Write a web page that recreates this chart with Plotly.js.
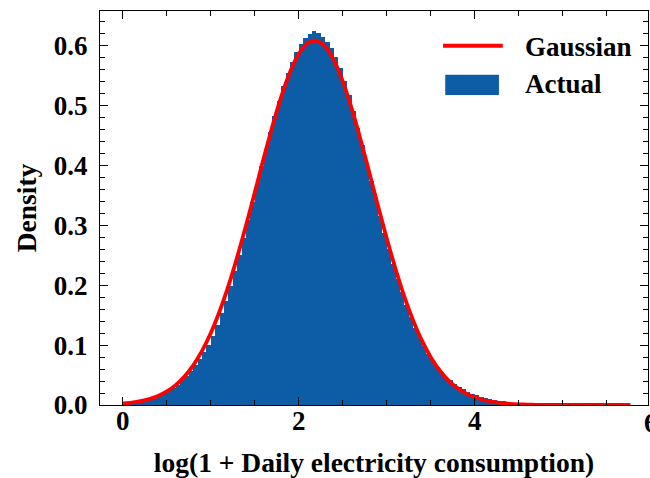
<!DOCTYPE html>
<html>
<head>
<meta charset="utf-8">
<script src="https://cdn.plot.ly/plotly-3.0.1.min.js"></script>
<style>html,body{margin:0;padding:0;background:#fff;}#chart{width:650px;height:478px;}</style>
</head>
<body>
<div id="chart"></div>
<script>
// Histogram of log(1 + daily consumption): bin start, bin width, densities
const binStart = 0.0;
const binWidth = 0.05;
const actualDensity = [
  0.003, 0.004, 0.005, 0.006, 0.007, 0.009, 0.011, 0.013, 0.016, 0.020,
  0.024, 0.029, 0.034, 0.041, 0.048, 0.057, 0.066, 0.076, 0.088, 0.101,
  0.116, 0.133, 0.153, 0.174, 0.198, 0.223, 0.250, 0.279, 0.309, 0.339,
  0.369, 0.399, 0.428, 0.456, 0.483, 0.508, 0.532, 0.554, 0.573, 0.590,
  0.603, 0.613, 0.620, 0.625, 0.621, 0.615, 0.607, 0.596, 0.581, 0.563,
  0.541, 0.517, 0.491, 0.463, 0.434, 0.404, 0.374, 0.344, 0.315, 0.287,
  0.260, 0.235, 0.211, 0.188, 0.167, 0.147, 0.129, 0.113, 0.098, 0.085,
  0.074, 0.064, 0.055, 0.047, 0.041, 0.035, 0.030, 0.026, 0.022, 0.019,
  0.016, 0.014, 0.012, 0.010, 0.008, 0.007, 0.006, 0.005, 0.004, 0.003,
  0.0025, 0.002, 0.0015, 0.0012, 0.001, 0.0008, 0.0006, 0.0005, 0.0004, 0.0003,
  0.0003, 0.0002, 0.0002, 0.0002, 0.0001, 0.0001, 0.0001, 0.0001, 0.0001, 0.0001,
  0.0001, 0.0001, 0.0001, 0.0001
];
// Fitted Gaussian curve
const gaussX = [
  0.0, 0.1, 0.2, 0.3, 0.4, 0.5, 0.6, 0.7, 0.8, 0.9,
  1.0, 1.1, 1.2, 1.3, 1.4, 1.5, 1.6, 1.7, 1.8, 1.9,
  2.0, 2.1, 2.2, 2.3, 2.4, 2.5, 2.6, 2.7, 2.8, 2.9,
  3.0, 3.1, 3.2, 3.3, 3.4, 3.5, 3.6, 3.7, 3.8, 3.9,
  4.0, 4.1, 4.2, 4.3, 4.4, 4.5, 4.6, 4.7, 4.8, 5.0,
  5.2, 5.4, 5.6, 5.77
];
const gaussY = [
  0.0024, 0.0039, 0.0063, 0.0099, 0.0152, 0.0227, 0.0332, 0.0474, 0.0662, 0.0903,
  0.1202, 0.1565, 0.1989, 0.2470, 0.2997, 0.3552, 0.4115, 0.4656, 0.5147, 0.5558,
  0.5864, 0.6045, 0.6087, 0.5989, 0.5756, 0.5405, 0.4958, 0.4444, 0.3891, 0.3328,
  0.2781, 0.2271, 0.1811, 0.1412, 0.1074, 0.0799, 0.0580, 0.0412, 0.0286, 0.0194,
  0.0128, 0.0083, 0.0052, 0.0032, 0.0019, 0.0011, 0.0006, 0.0003, 0.0002, 0.0001,
  0.0, 0.0, 0.0, 0.0
];
const xTickVals = [0, 2, 4];
const xTickText = ['0', '2', '4'];
const xEdgeTickText = '6';   // tick at x = 6, cut by the figure edge
const yTickVals = [0, 0.1, 0.2, 0.3, 0.4, 0.5, 0.6];
const yTickText = ['0.0', '0.1', '0.2', '0.3', '0.4', '0.5', '0.6'];
const seriesNames = ['Gaussian', 'Actual'];
const xTitle = 'log(1 + Daily electricity consumption)';
const yTitle = 'Density';

const binCenters = actualDensity.map((_, i) => binStart + binWidth * (i + 0.5));

const BLUE = '#0C5DA5';
const RED = '#FF0000';
const FONT = 'Liberation Serif, Times New Roman, serif';

const traces = [
  {
    type: 'bar', name: seriesNames[1], x: binCenters, y: actualDensity,
    width: binWidth * 1.02,
    marker: {color: BLUE, line: {width: 0}},
    hoverinfo: 'x+y', showlegend: false
  },
  {
    type: 'scatter', mode: 'lines', name: seriesNames[0], x: gaussX, y: gaussY,
    line: {color: RED, width: 3.8, shape: 'spline', smoothing: 0.6},
    showlegend: false
  }
];

const axisCommon = {
  showline: true, linecolor: '#000', linewidth: 1.2, mirror: 'allticks',
  ticks: 'inside', ticklen: 8, tickwidth: 1.2, tickcolor: '#000',
  showgrid: false, zeroline: false,
  tickfont: {family: FONT, size: 27, color: '#000', weight: 'bold'}
};

const layout = {
  width: 650, height: 478,
  margin: {l: 100, r: 2, t: 11, b: 73},
  paper_bgcolor: '#fff', plot_bgcolor: '#fff',
  bargap: 0, barmode: 'overlay',
  showlegend: false,
  font: {family: FONT, color: '#000'},
  xaxis: Object.assign({}, axisCommon, {
    range: [-0.26, 5.97],
    tickvals: xTickVals, ticktext: xTickText,
    minor: {dtick: 0.5, tick0: 0, ticks: 'inside', ticklen: 5, tickwidth: 1, tickcolor: '#000'},
    ticklabelstandoff: -9,
    title: {text: xTitle, font: {family: FONT, size: 27.5, color: '#000', weight: 'bold'}, standoff: 18}
  }),
  yaxis: Object.assign({}, axisCommon, {
    range: [0, 0.658],
    tickvals: yTickVals, ticktext: yTickText,
    minor: {dtick: 0.02, tick0: 0, ticks: 'inside', ticklen: 5, tickwidth: 1, tickcolor: '#000'},
    ticklabelstandoff: 6,
    title: {text: yTitle, font: {family: FONT, size: 27.5, color: '#000', weight: 'bold'}, standoff: 9}
  }),
  shapes: [
    {type: 'line', xref: 'paper', yref: 'paper', x0: 0.626, x1: 0.735, y0: 0.912, y1: 0.912,
     line: {color: RED, width: 4}},
    {type: 'rect', xref: 'paper', yref: 'paper', x0: 0.630, x1: 0.728, y0: 0.787, y1: 0.838,
     fillcolor: BLUE, line: {width: 0}}
  ],
  annotations: [
    {xref: 'paper', yref: 'paper', x: 0.772, y: 0.909, xanchor: 'left', yanchor: 'middle',
     text: seriesNames[0], showarrow: false,
     font: {family: FONT, size: 27, color: '#000', weight: 'bold'}},
    {xref: 'paper', yref: 'paper', x: 0.772, y: 0.815, xanchor: 'left', yanchor: 'middle',
     text: seriesNames[1], showarrow: false,
     font: {family: FONT, size: 27, color: '#000', weight: 'bold'}},
    {xref: 'paper', yref: 'paper', x: 1.0055, y: -0.046, xanchor: 'center', yanchor: 'middle',
     text: xEdgeTickText, showarrow: false,
     font: {family: FONT, size: 27, color: '#000', weight: 'bold'}}
  ]
};

Plotly.newPlot('chart', traces, layout, {staticPlot: true, displayModeBar: false});
</script>
</body>
</html>
